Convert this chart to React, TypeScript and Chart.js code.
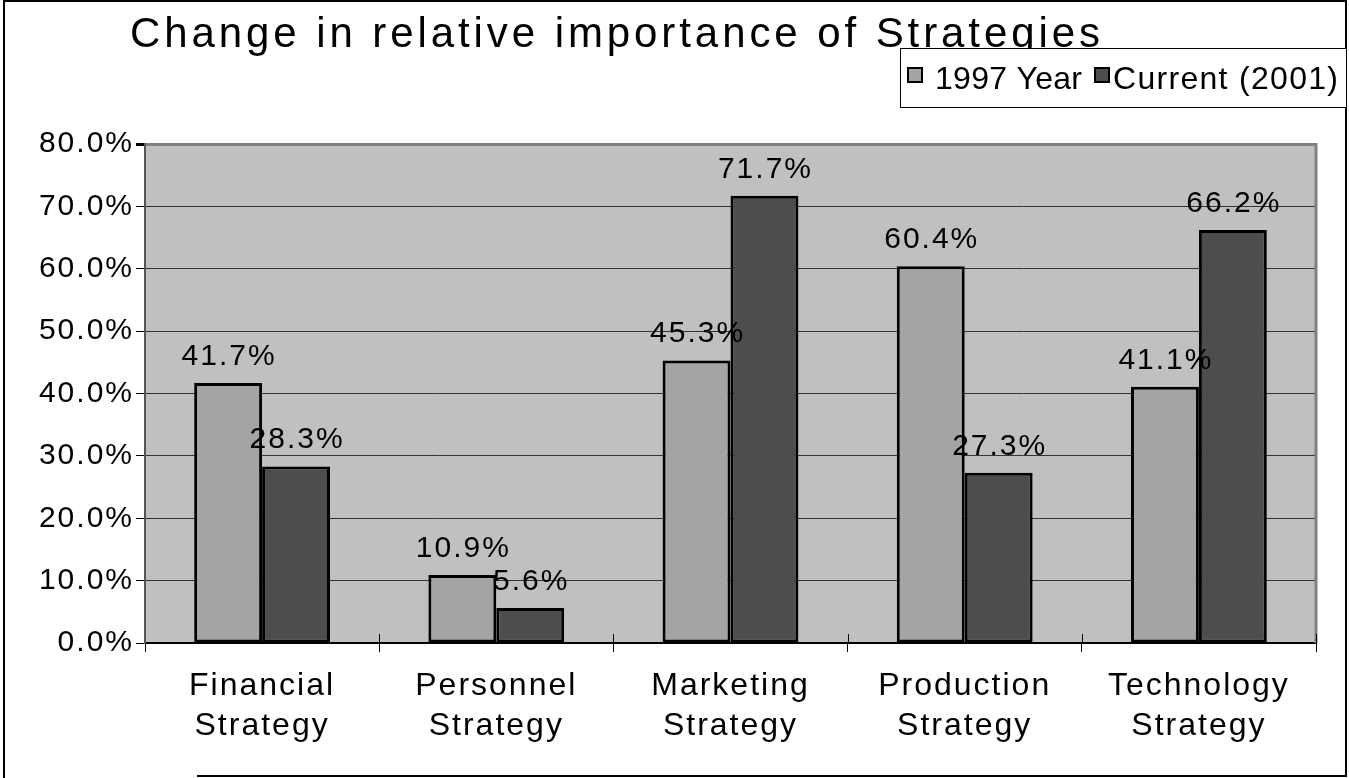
import React, { useEffect, useRef } from "react";
import { Chart, registerables } from "chart.js";

Chart.register(...registerables);

const categories = [
  ["Financial", "Strategy"],
  ["Personnel", "Strategy"],
  ["Marketing", "Strategy"],
  ["Production", "Strategy"],
  ["Technology", "Strategy"],
];
const series1997 = [41.7, 10.9, 45.3, 60.4, 41.1];
const seriesCurrent = [28.3, 5.6, 71.7, 27.3, 66.2];
const seriesNames = ["1997 Year", "Current (2001)"];
const seriesColors = ["#A4A4A4", "#4D4D4D"];
const yMin = 0;
const yMax = 80;
const yStep = 10;
const titleText = "Change in relative importance of Strategies";

const FONT = '"Liberation Sans", Arial, sans-serif';

function fitText(ctx: CanvasRenderingContext2D, text: string, x: number, y: number, target: number) {
  (ctx as any).letterSpacing = "0px";
  const w = ctx.measureText(text).width;
  const ls = (target - w) / Math.max(1, text.length - 1);
  (ctx as any).letterSpacing = ls + "px";
  ctx.fillText(text, x, y);
  (ctx as any).letterSpacing = "0px";
}

const decor = {
  id: "decor",
  beforeDraw(chart: any) {
    const ctx = chart.ctx;
    const { left, top, right, bottom } = chart.chartArea;
    ctx.save();
    ctx.fillStyle = "#ffffff";
    ctx.fillRect(0, 0, chart.width, chart.height);
    ctx.fillStyle = "#C0C0C0";
    ctx.fillRect(left, top, right - left, bottom - top);
    ctx.restore();
    (ctx as any).letterSpacing = "2px";
  },
  afterDatasetsDraw(chart: any) {
    const ctx = chart.ctx;
    const { left, top, right, bottom } = chart.chartArea;
    ctx.save();
    // right border of plot
    ctx.strokeStyle = "#808080";
    ctx.lineWidth = 3;
    ctx.beginPath();
    ctx.moveTo(right, top - 1);
    ctx.lineTo(right, bottom);
    ctx.stroke();
    // inner part of x tick marks
    const xs = chart.scales.x;
    const n = categories.length;
    ctx.strokeStyle = "#000";
    ctx.lineWidth = 1;
    for (let i = 1; i <= n; i++) {
      const px = Math.round(xs.getPixelForValue(i - 0.5)) + 0.5;
      ctx.beginPath();
      ctx.moveTo(px, bottom - 9);
      ctx.lineTo(px, bottom);
      ctx.stroke();
    }
    // data labels
    ctx.fillStyle = "#000";
    ctx.font = `30px ${FONT}`;
    ctx.textAlign = "center";
    ctx.textBaseline = "alphabetic";
    (ctx as any).letterSpacing = "2px";
    chart.data.datasets.forEach((ds: any, di: number) => {
      const meta = chart.getDatasetMeta(di);
      meta.data.forEach((el: any, i: number) => {
        const v = ds.data[i];
        ctx.fillText(v.toFixed(1) + "%", el.x + 1, el.y - 18);
      });
    });
    ctx.restore();
  },
  afterDraw(chart: any) {
    const ctx = chart.ctx;
    ctx.save();
    // outer frame
    ctx.strokeStyle = "#000";
    ctx.lineWidth = 2;
    ctx.beginPath();
    ctx.moveTo(4, 778);
    ctx.lineTo(4, 1);
    ctx.lineTo(1346, 1);
    ctx.lineTo(1346, 776);
    ctx.lineTo(197, 776);
    ctx.stroke();
    // title
    ctx.fillStyle = "#000";
    ctx.font = `42px ${FONT}`;
    ctx.textAlign = "left";
    ctx.textBaseline = "alphabetic";
    fitText(ctx, titleText, 130, 47, 970);
    // legend
    ctx.lineWidth = 1;
    ctx.strokeStyle = "#000";
    ctx.fillStyle = "#fff";
    ctx.fillRect(900, 48, 446, 59);
    ctx.strokeRect(900.5, 48.5, 446, 59);
    const items = [
      { x: 908, tx: 935, w: 147 },
      { x: 1095, tx: 1113, w: 225 },
    ];
    ctx.font = `32px ${FONT}`;
    items.forEach((it, i) => {
      ctx.fillStyle = seriesColors[i];
      ctx.fillRect(it.x, 68, 14, 14);
      ctx.lineWidth = 2;
      ctx.strokeStyle = "#000";
      ctx.strokeRect(it.x, 68, 14, 14);
      ctx.fillStyle = "#000";
      fitText(ctx, seriesNames[i], it.tx, 89, it.w);
    });
    ctx.restore();
  },
};

export default function App() {
  const ref = useRef<HTMLCanvasElement>(null);
  useEffect(() => {
    document.body.style.margin = "0";
    const canvas = ref.current!;
    const chart = new Chart(canvas, {
      type: "bar",
      data: {
        labels: categories as any,
        datasets: [
          {
            label: seriesNames[0],
            data: series1997,
            backgroundColor: seriesColors[0],
            borderColor: "#000",
            borderWidth: 3,
            borderSkipped: false,
          },
          {
            label: seriesNames[1],
            data: seriesCurrent,
            backgroundColor: seriesColors[1],
            borderColor: "#000",
            borderWidth: 3,
            borderSkipped: false,
          },
        ],
      },
      options: {
        responsive: false,
        animation: false,
        devicePixelRatio: 1,
        categoryPercentage: 0.58,
        barPercentage: 1.0,
        layout: { padding: { left: 0, top: 144, right: 33, bottom: 0 } },
        plugins: {
          legend: { display: false },
          title: { display: false },
          tooltip: { enabled: false },
        },
        scales: {
          x: {
            afterFit: (s: any) => {
              s.height = 135;
            },
            grid: {
              offset: true,
              drawOnChartArea: false,
              drawTicks: true,
              tickLength: 9,
              color: "#000",
              lineWidth: 1,
            },
            border: { color: "#000", width: 2 },
            ticks: {
              color: "#000",
              font: { family: FONT, size: 32, lineHeight: 1.25 } as any,
              padding: 14,
              maxRotation: 0,
              autoSkip: false,
            },
          },
          y: {
            min: yMin,
            max: yMax,
            afterFit: (s: any) => {
              s.width = 145;
            },
            grid: {
              color: (c: any) => (c.tick && c.tick.value === yMax ? "#808080" : "#333333"),
              lineWidth: (c: any) => (c.tick && c.tick.value === yMax ? 3 : 1),
              tickColor: "#000",
              tickLength: 9,
            },
            border: { color: "#555555", width: 2 },
            ticks: {
              stepSize: yStep,
              color: "#000",
              font: { family: FONT, size: 30 },
              padding: 2,
              callback: (v: any) => Number(v).toFixed(1) + "%",
            },
          },
        },
      },
      plugins: [decor],
    });
    return () => chart.destroy();
  }, []);
  return <canvas ref={ref} width={1349} height={778} style={{ display: "block" }} />;
}
